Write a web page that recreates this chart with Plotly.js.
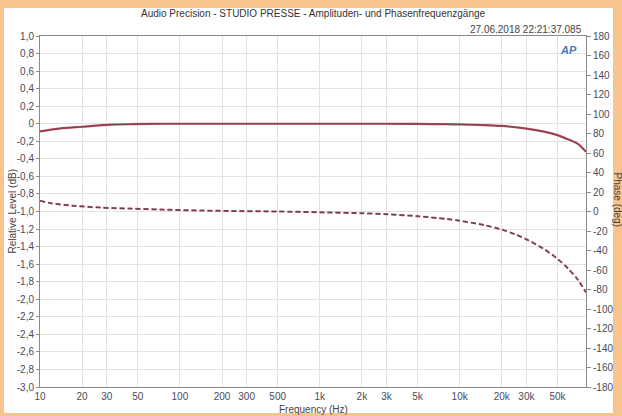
<!DOCTYPE html>
<html>
<head>
<meta charset="utf-8">
<script src="https://cdn.plot.ly/plotly-3.0.1.min.js"></script>
<style>
html,body{margin:0;padding:0;background:#f6c48c;width:622px;height:416px;overflow:hidden;}
#paper{position:absolute;left:4px;top:8px;width:609px;height:405px;background:#ffffff;}
#chart{position:absolute;left:0;top:0;width:622px;height:416px;}
</style>
</head>
<body>
<div id="paper"></div>
<div id="chart"></div>
<script>
// Amplitude response (dB)
const ampFreq = [10, 14, 20, 32, 45, 80, 150, 300, 1000, 3000, 5000, 8000, 10000, 15000, 20000, 25000, 30000, 40000, 50000, 60000, 70000, 80000];
const ampDb   = [-0.088, -0.053, -0.034, -0.011, -0.005, 0, 0, 0, 0, 0, -0.002, -0.005, -0.008, -0.015, -0.025, -0.04, -0.055, -0.09, -0.13, -0.18, -0.23, -0.32];
// Phase response (deg)
const phFreq = [10, 12, 17, 27, 44, 73, 140, 230, 500, 1000, 2000, 3000, 5000, 8000, 10000, 15000, 20000, 25000, 30000, 40000, 50000, 60000, 70000, 80000];
const phDeg  = [11, 8.5, 6, 4, 3, 2, 1, 0.5, 0, -0.8, -1.8, -2.8, -4.8, -7.6, -9.5, -14, -18.5, -23.5, -28.5, -38.5, -48.5, -59, -70, -83];

const xTickVals = [10, 20, 30, 50, 100, 200, 300, 500, 1000, 2000, 3000, 5000, 10000, 20000, 30000, 50000];
const xTickText = ["10", "20", "30", "50", "100", "200", "300", "500", "1k", "2k", "3k", "5k", "10k", "20k", "30k", "50k"];
const yTickVals = [1.0, 0.8, 0.6, 0.4, 0.2, 0, -0.2, -0.4, -0.6, -0.8, -1.0, -1.2, -1.4, -1.6, -1.8, -2.0, -2.2, -2.4, -2.6, -2.8, -3.0];
const yTickText = ["1,0", "0,8", "0,6", "0,4", "0,2", "0", "-0,2", "-0,4", "-0,6", "-0,8", "-1,0", "-1,2", "-1,4", "-1,6", "-1,8", "-2,0", "-2,2", "-2,4", "-2,6", "-2,8", "-3,0"];
const y2TickVals = [180, 160, 140, 120, 100, 80, 60, 40, 20, 0, -20, -40, -60, -80, -100, -120, -140, -160, -180];
const y2TickText = ["180", "160", "140", "120", "100", "80", "60", "40", "20", "0", "-20", "-40", "-60", "-80", "-100", "-120", "-140", "-160", "-180"];

const FONT = "Liberation Sans, Arial, sans-serif";
const tickFont = {family: FONT, size: 10, color: "#4a4a5a"};

const traces = [
  {x: ampFreq, y: ampDb, type: "scatter", mode: "lines", line: {color: "#c8404e", width: 2.2, shape: "spline", smoothing: 0.8}, yaxis: "y", hoverinfo: "skip"},
  {x: ampFreq, y: ampDb, type: "scatter", mode: "lines", line: {color: "#6a4a5e", width: 1, shape: "spline", smoothing: 0.8}, yaxis: "y", hoverinfo: "skip"},
  {x: phFreq, y: phDeg, type: "scatter", mode: "lines", line: {color: "#b04452", width: 2, dash: "5px,3px", shape: "spline", smoothing: 0.8}, yaxis: "y2", hoverinfo: "skip"},
  {x: phFreq, y: phDeg, type: "scatter", mode: "lines", line: {color: "#584452", width: 1, dash: "5px,3px", shape: "spline", smoothing: 0.8}, yaxis: "y2", hoverinfo: "skip"}
];

const layout = {
  width: 622, height: 416,
  margin: {l: 40, r: 36, t: 36, b: 29},
  paper_bgcolor: "rgba(0,0,0,0)",
  plot_bgcolor: "#ffffff",
  showlegend: false,
  font: {family: FONT, size: 10, color: "#333"},
  xaxis: {
    type: "log", range: [1, Math.log10(80000)],
    tickvals: xTickVals, ticktext: xTickText,
    tickfont: tickFont, ticks: "",
    showgrid: true, gridcolor: "#e2e2e2", gridwidth: 1,
    showline: true, linecolor: "#8a8a8a", linewidth: 1, mirror: true,
    zeroline: false
  },
  yaxis: {
    range: [-3, 1],
    tickvals: yTickVals, ticktext: yTickText,
    tickfont: tickFont, ticks: "outside", ticklen: 3, tickcolor: "#8a8a8a",
    showgrid: true, gridcolor: "#e2e2e2", gridwidth: 1,
    showline: true, linecolor: "#8a8a8a", linewidth: 1, mirror: true,
    zeroline: false
  },
  yaxis2: {
    range: [-180, 180], overlaying: "y", side: "right",
    tickvals: y2TickVals, ticktext: y2TickText,
    tickfont: tickFont, ticks: "outside", ticklen: 4, tickcolor: "#8a8a8a",
    showgrid: false, showline: false, zeroline: false
  },
  annotations: [
    {text: "Audio Precision - STUDIO PRESSE - Amplituden- und Phasenfrequenzgänge", xref: "paper", yref: "paper",
     x: 0.5, y: 1, yshift: 23, xanchor: "center", yanchor: "middle", showarrow: false,
     font: {family: FONT, size: 10, color: "#333"}},
    {text: "27.06.2018 22:21:37.085", xref: "paper", yref: "paper",
     x: 1, y: 1, xshift: -2, yshift: 7, xanchor: "right", yanchor: "middle", showarrow: false,
     font: {family: FONT, size: 10, color: "#444"}},
    {text: "<b><i>AP</i></b>", xref: "paper", yref: "paper",
     x: 1, y: 1, xshift: -18, yshift: -14, xanchor: "center", yanchor: "middle", showarrow: false,
     font: {family: FONT, size: 11, color: "#3f78c0"}},
    {text: "Frequency (Hz)", xref: "paper", yref: "paper",
     x: 0.5, y: 0, yshift: -22, xanchor: "center", yanchor: "middle", showarrow: false,
     font: {family: FONT, size: 10, color: "#444"}},
    {text: "Relative Level (dB)", xref: "paper", yref: "paper",
     x: 0, y: 0.5, xshift: -28, xanchor: "center", yanchor: "middle", showarrow: false, textangle: -90,
     font: {family: FONT, size: 10, color: "#444"}},
    {text: "Phase (deg)", xref: "paper", yref: "paper",
     x: 1, y: 0.5, xshift: 31, yshift: 12, xanchor: "center", yanchor: "middle", showarrow: false, textangle: 90,
     font: {family: FONT, size: 10, color: "#444"}}
  ]
};

Plotly.newPlot("chart", traces, layout, {staticPlot: true, displayModeBar: false});
</script>
</body>
</html>
